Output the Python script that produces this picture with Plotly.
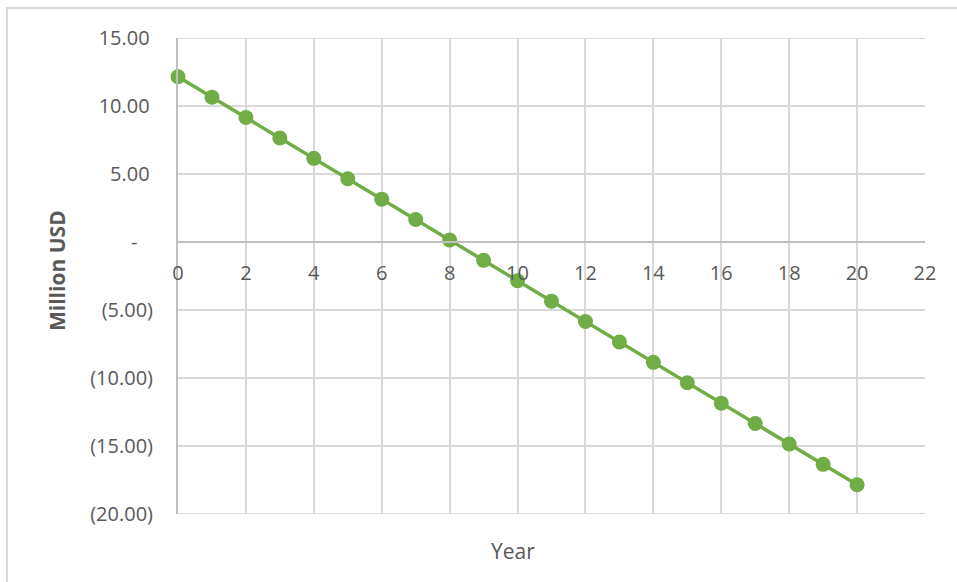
import plotly.graph_objects as go

# Net position by year (million USD)
years = list(range(0, 21))
values = [12.15, 10.65, 9.15, 7.65, 6.15, 4.65, 3.15, 1.65, 0.15, -1.35, -2.85,
          -4.35, -5.85, -7.35, -8.85, -10.35, -11.85, -13.35, -14.85, -16.35, -17.85]

x_ticks = list(range(0, 23, 2))
y_ticks = [15, 10, 5, 0, -5, -10, -15, -20]
y_tick_text = ["15.00\u2009", "10.00\u2009", "5.00\u2009", "-\u00a0\u00a0\u00a0",
               "(5.00)", "(10.00)", "(15.00)", "(20.00)"]

FONT = "'Open Sans', sans-serif"
TXT = "#595959"
GREEN = "#70AD47"
GRID = "#d9d9d9"

fig = go.Figure()
fig.add_trace(go.Scatter(
    x=years, y=values, mode="lines+markers",
    line=dict(color=GREEN, width=3.5),
    marker=dict(color=GREEN, size=15),
    showlegend=False, cliponaxis=False,
))

L, R, T, B = 178, 32, 38, 68
W, H = 957, 582
pw, ph = W - L - R, H - T - B

# horizontal grid lines at the top and bottom of the value range
edge_lines = [
    dict(type="line", xref="x", yref="y", x0=0, x1=22, y0=yv, y1=yv,
         line=dict(color=GRID, width=2), layer="below")
    for yv in (y_ticks[0], y_ticks[-1])
]

fig.update_layout(
    width=W, height=H,
    margin=dict(l=L, r=R, t=T, b=B),
    paper_bgcolor="white", plot_bgcolor="white",
    font=dict(family=FONT, size=20, color=TXT),
    xaxis=dict(
        range=[0, 22], tickvals=x_ticks, ticktext=[str(v) for v in x_ticks],
        showgrid=True, gridcolor=GRID, gridwidth=2,
        showline=True, linecolor="#bfbfbf", linewidth=2,
        zeroline=False, anchor="free", position=20 / 35,
        ticks="", ticklabelstandoff=13,
        tickfont=dict(family=FONT, size=20, color=TXT),
    ),
    yaxis=dict(
        range=[-20, 15], tickvals=y_ticks, ticktext=y_tick_text,
        showgrid=True, gridcolor=GRID, gridwidth=2,
        showline=True, linecolor="#bfbfbf", linewidth=2,
        zeroline=False, ticks="", ticklabelstandoff=19,
        tickfont=dict(family=FONT, size=20, color=TXT),
    ),
    annotations=[
        dict(text="Year", xref="paper", yref="paper",
             x=(513 - L) / pw, y=(ph + T - 551) / ph,
             xanchor="center", yanchor="middle",
             showarrow=False, font=dict(family=FONT, size=21, color=TXT)),
        dict(text="<b>Million USD</b>", xref="paper", yref="paper",
             x=(57 - L) / pw, y=(ph + T - 271) / ph, textangle=-90,
             xanchor="center", yanchor="middle",
             showarrow=False, font=dict(family=FONT, size=21, color=TXT)),
    ],
    shapes=[
        dict(type="rect", xref="paper", yref="paper", layer="below",
             x0=(7 - L) / pw, x1=(962 - L) / pw,
             y0=(ph + T - 590) / ph, y1=(ph + T - 8) / ph,
             line=dict(color=GRID, width=2), fillcolor="rgba(0,0,0,0)"),
    ] + edge_lines,
)

fig.write_html("out.html")
